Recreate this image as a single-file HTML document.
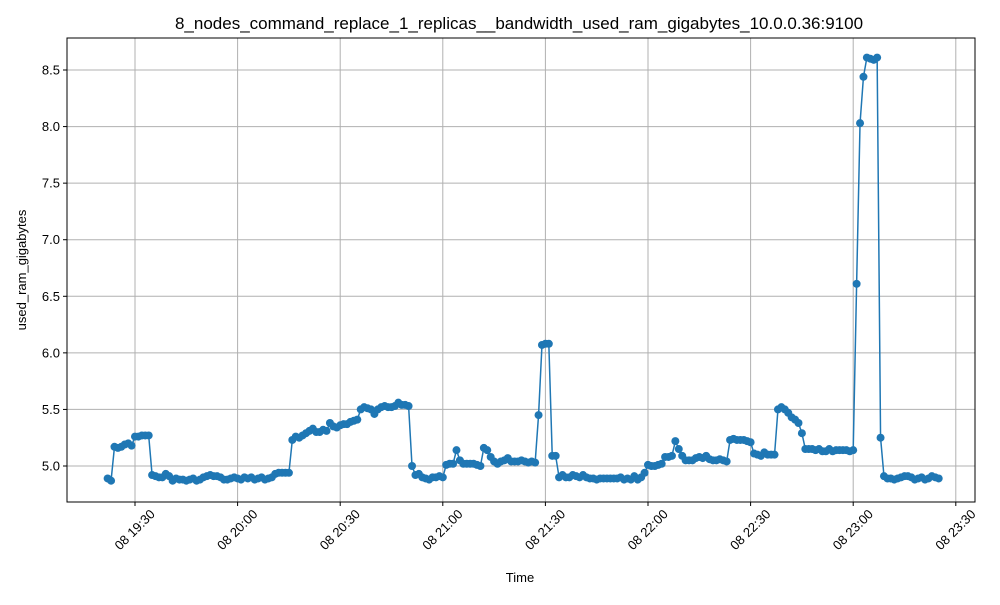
<!DOCTYPE html>
<html><head><meta charset="utf-8"><style>
html,body{margin:0;padding:0;background:#fff;}
svg{font-family:"Liberation Sans","DejaVu Sans",sans-serif;}
</style></head><body>
<svg id="chart" width="1000" height="600" viewBox="0 0 1000 600">
<rect width="1000" height="600" fill="#fff"/>
<text x="519" y="29" font-size="17" text-anchor="middle">8_nodes_command_replace_1_replicas__bandwidth_used_ram_gigabytes_10.0.0.36:9100</text>
<g id="grid"></g>
<g id="series"></g>
<rect x="67" y="38" width="908" height="464" fill="none" stroke="#000" stroke-width="1"/>
<g id="axes"></g>
<text x="520" y="582" font-size="13" text-anchor="middle">Time</text>
<text transform="translate(26,270) rotate(-90)" font-size="13" text-anchor="middle">used_ram_gigabytes</text>
</svg>
<script>
const startMinute = 22; // minutes after 19:00
const values = [
4.89,4.87,5.17,5.16,5.17,5.19,5.20,5.18,5.26,5.26,5.27,5.27,5.27,
4.92,4.91,4.90,4.90,4.93,4.91,4.87,4.89,4.88,4.88,4.87,4.88,4.89,4.87,4.88,4.90,4.91,4.92,4.91,4.91,4.90,4.88,4.88,4.89,4.90,4.89,4.88,4.90,4.89,4.90,4.88,4.89,4.90,4.88,4.89,4.90,4.93,4.94,4.94,4.94,4.94,
5.23,5.26,5.25,5.27,5.29,5.31,5.33,5.30,5.30,5.32,5.31,5.38,5.35,5.34,5.36,5.37,5.37,5.39,5.40,5.41,
5.50,5.52,5.51,5.50,5.46,5.50,5.52,5.53,5.52,5.52,5.53,5.56,5.54,5.54,5.53,
5.00,4.92,4.93,4.90,4.89,4.88,4.90,4.90,4.91,4.90,
5.01,5.02,5.02,5.14,5.05,5.02,5.02,5.02,5.02,5.01,5.00,5.16,5.14,5.08,5.04,5.02,5.04,5.05,5.07,5.04,5.04,5.04,5.05,5.04,5.03,5.04,5.03,
5.45,6.07,6.08,6.08,5.09,5.09,
4.90,4.92,4.90,4.90,4.92,4.91,4.90,4.92,4.90,4.89,4.89,4.88,4.89,4.89,4.89,4.89,4.89,4.89,4.90,4.88,4.89,4.88,4.91,4.88,4.90,4.94,
5.01,5.00,5.00,5.01,5.02,5.08,5.08,5.09,5.22,5.15,5.09,5.05,5.05,5.05,5.07,5.08,5.07,5.09,5.06,5.05,5.05,5.06,5.05,5.04,
5.23,5.24,5.23,5.23,5.23,5.22,5.21,5.11,5.10,5.09,5.12,5.10,5.10,5.10,
5.50,5.52,5.50,5.47,5.43,5.41,5.38,5.29,5.15,5.15,5.15,5.14,5.15,5.13,5.13,5.15,5.13,5.14,5.14,5.14,5.14,5.13,5.14,
6.61,8.03,8.44,8.61,8.60,8.59,8.61,5.25,
4.91,4.89,4.89,4.88,4.89,4.90,4.91,4.91,4.90,4.88,4.89,4.90,4.88,4.89,4.91,4.90,4.89
];
const yTicks = [5.0,5.5,6.0,6.5,7.0,7.5,8.0,8.5];
const xTickMinutes = [30,60,90,120,150,180,210,240,270];
const xTickLabels = ["08 19:30","08 20:00","08 20:30","08 21:00","08 21:30","08 22:00","08 22:30","08 23:00","08 23:30"];

const NS="http://www.w3.org/2000/svg";
function xs(m){return 135+(m-30)*102.6/30;}
function ys(v){return 466-(v-5.0)*113.14;}
function mk(tag,attrs,parent){const e=document.createElementNS(NS,tag);for(const k in attrs)e.setAttribute(k,attrs[k]);parent.appendChild(e);return e;}
const grid=document.getElementById('grid'),axes=document.getElementById('axes'),series=document.getElementById('series');
yTicks.forEach(t=>{
  const y=ys(t);
  const gl=mk('line',{x1:67,x2:975,y1:y,y2:y,stroke:'#b0b0b0','stroke-width':1},grid);
  
  
  const tk=mk('line',{x1:63,x2:67,y1:y,y2:y,stroke:'#000'},axes);
  
  
  const tx=mk('text',{x:60,y:y+4.5,'font-size':13,'text-anchor':'end'},axes);
  tx.textContent=t.toFixed(1);
  
  
});
xTickMinutes.forEach((m,i)=>{
  const x=xs(m);
  const gl=mk('line',{x1:x,x2:x,y1:38,y2:502,stroke:'#b0b0b0','stroke-width':1},grid);
  
  
  const tk=mk('line',{x1:x,x2:x,y1:502,y2:506,stroke:'#000'},axes);
  
  
  const tx=mk('text',{transform:`translate(${x},${530}) rotate(-45)`,'font-size':13,'text-anchor':'middle','dy':'4'},axes);
  tx.textContent=xTickLabels[i];
  
  
});
const pts=values.map((v,i)=>[xs(startMinute+i),ys(v)]);
const line=mk('polyline',{points:pts.map(p=>p.join(',')).join(' '),fill:'none',stroke:'#1f77b4','stroke-width':1.5},series);


pts.forEach(p=>{
  const c=mk('circle',{cx:p[0],cy:p[1],r:4,fill:'#1f77b4'},series);
  
  
});
</script>
</body></html>
